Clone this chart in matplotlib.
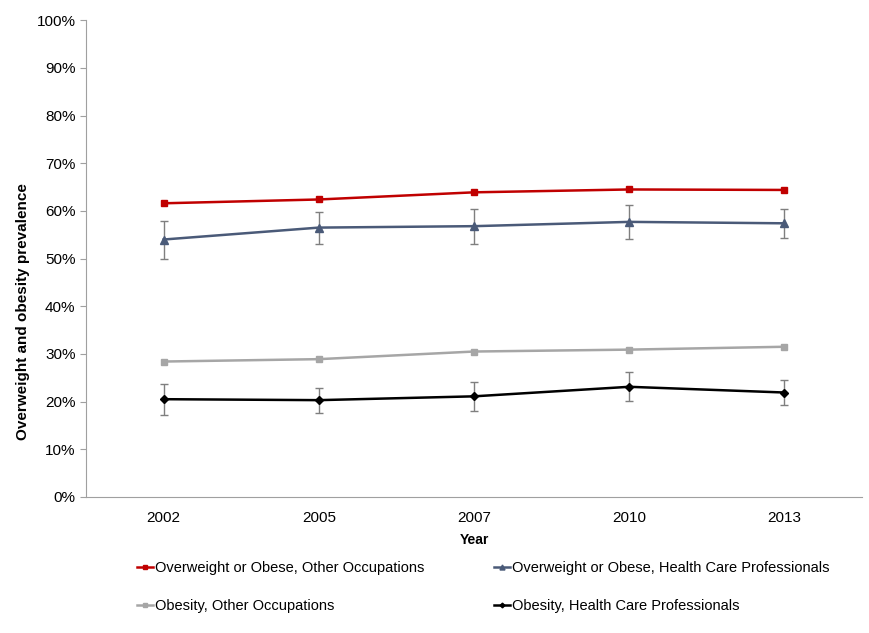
import matplotlib.pyplot as plt
from matplotlib.ticker import PercentFormatter

plt.rcParams["font.family"] = ["Liberation Sans", "DejaVu Sans"]

years = ["2002", "2005", "2007", "2010", "2013"]

ow_other = [61.6, 62.4, 63.9, 64.5, 64.4]
ow_hcp = [54.0, 56.5, 56.8, 57.7, 57.4]
ow_hcp_lo = [50.0, 53.0, 53.0, 54.2, 54.3]
ow_hcp_hi = [57.9, 59.8, 60.5, 61.2, 60.5]

ob_other = [28.4, 28.9, 30.5, 30.9, 31.5]
ob_hcp = [20.5, 20.3, 21.1, 23.1, 21.9]
ob_hcp_lo = [17.2, 17.7, 18.1, 20.1, 19.3]
ob_hcp_hi = [23.6, 22.9, 24.1, 26.1, 24.5]


def _err(mid, lo, hi):
    return [[m - l for m, l in zip(mid, lo)], [h - m for m, h in zip(mid, hi)]]


fig = plt.figure(figsize=(8.69, 6.33), dpi=100)
ax = fig.add_axes([0.099, 0.215, 0.893, 0.753])
x = list(range(len(years)))

err_kw = dict(ecolor="#7f7f7f", elinewidth=1, capsize=3, capthick=1)

h_red, = ax.plot(x, ow_other, color="#c00000", lw=1.8, marker="s", ms=5,
                 label="Overweight or Obese, Other Occupations")
ax.errorbar(x, ow_hcp, yerr=_err(ow_hcp, ow_hcp_lo, ow_hcp_hi), fmt="none", **err_kw)
h_blue, = ax.plot(x, ow_hcp, color="#4a5a78", lw=1.8, marker="^", ms=6,
                  label="Overweight or Obese, Health Care Professionals")
h_gray, = ax.plot(x, ob_other, color="#a6a6a6", lw=1.8, marker="s", ms=5,
                  label="Obesity, Other Occupations")
ax.errorbar(x, ob_hcp, yerr=_err(ob_hcp, ob_hcp_lo, ob_hcp_hi), fmt="none", **err_kw)
h_black, = ax.plot(x, ob_hcp, color="black", lw=1.8, marker="D", ms=4,
                   label="Obesity, Health Care Professionals")

ax.set_xlim(-0.5, len(years) - 0.5)
ax.set_ylim(0, 100)
ax.set_yticks(range(0, 101, 10))
ax.yaxis.set_major_formatter(PercentFormatter(decimals=0))
ax.set_xticks(x)
ax.set_xticklabels(years)
ax.tick_params(axis="both", labelsize=11, colors="black")
ax.tick_params(axis="y", length=4, color="#a0a0a0", direction="out")
ax.tick_params(axis="x", length=0, pad=10)
for side in ["top", "right"]:
    ax.spines[side].set_visible(False)
for side in ["left", "bottom"]:
    ax.spines[side].set_color("#a0a0a0")

ax.set_ylabel("Overweight and obesity prevalence", fontsize=11, fontweight="bold")
ax.yaxis.set_label_coords(-0.072, 0.388)
ax.set_xlabel("Year", fontsize=10, fontweight="bold", labelpad=6)

leg = fig.legend(
    handles=[h_red, h_gray, h_blue, h_black],
    ncol=2,
    loc="upper left",
    bbox_to_anchor=(0.143, 0.135),
    frameon=False,
    fontsize=10.5,
    handlelength=1.1,
    handletextpad=0.1,
    columnspacing=4.8,
    labelspacing=1.7,
    markerscale=0.6,
)

fig.savefig("out.png", dpi=100)
